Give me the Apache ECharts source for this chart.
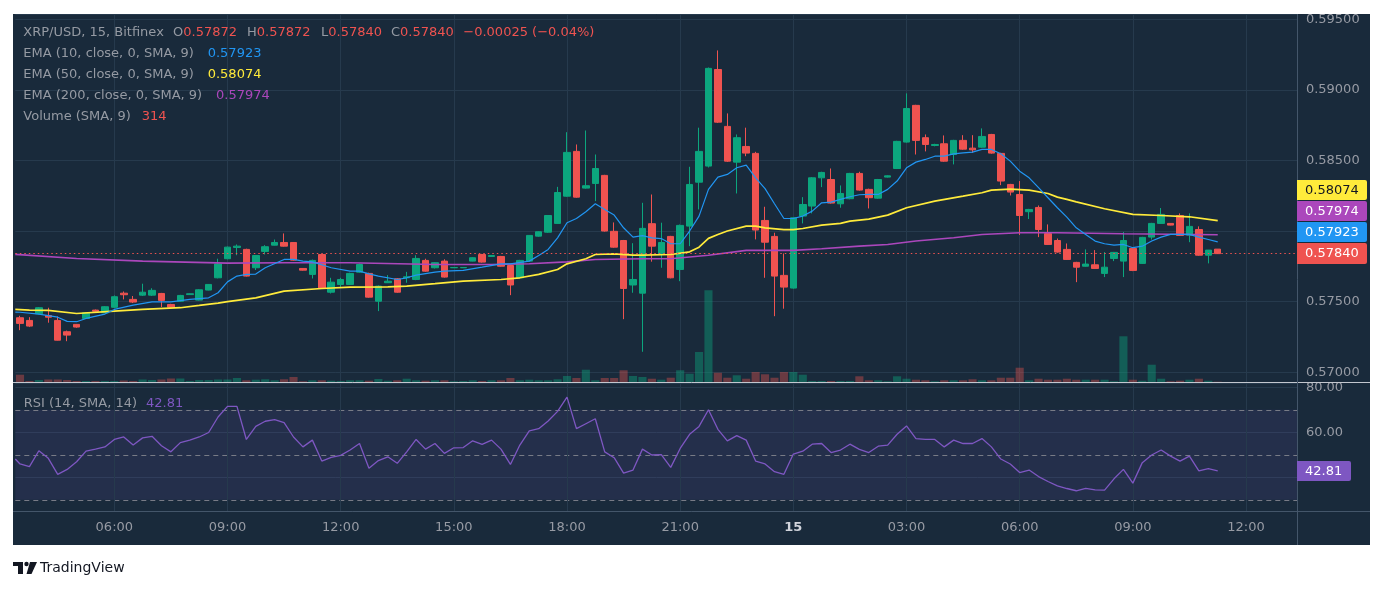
<!DOCTYPE html>
<html><head><meta charset="utf-8">
<script src="https://cdn.jsdelivr.net/npm/echarts@6/dist/echarts.min.js"></script>
<style>html,body{margin:0;padding:0;background:#fff}#c{width:1384px;height:590px}</style>
</head><body><div id="c"></div>
<script>
// ---------------- DATA ----------------
const timeTicks = ['06:00','09:00','12:00','15:00','18:00','21:00','15','03:00'];
const startTime = '03:30';
const open = [
.57386,.57367,.57414,.57402,.57367,.57287,.57339,.57381,.57440,.57421,
.57460,.57560,.57516,.57546,.57546,.57558,.57480,.57503,.57550,.57511,
.57582,.57669,.57804,.57884,.57870,.57740,.57856,.57900,.57919,.57919,
.57735,.57693,.57834,.57567,.57622,.57622,.57709,.57700,.57503,.57634,
.57662,.57669,.57657,.57792,.57740,.57787,.57740,.57740,.57787,.57834,
.57820,.57820,.57756,.57669,.57787,.57964,.57992,.58054,.58247,.58564,
.58304,.58337,.58394,.57998,.57933,.57618,.57560,.58052,.57834,.57962,
.57728,.58035,.58346,.58460,.59144,.58741,.58488,.58599,.58550,.58075,
.57962,.57686,.57596,.58106,.58177,.58377,.58365,.58193,.58229,.58408,
.58295,.58233,.58382,.58443,.58630,.58890,.58661,.58606,.58618,.58542,
.58642,.58587,.58594,.58684,.58550,.58330,.58259,.58137,.58167,.57982,
.57933,.57870,.57778,.57751,.57761,.57700,.57806,.57787,.57877,.57771,
.57957,.58054,.58054,.58110,.57971,.58011,.57829,.57872];
const close = [
.57346,.57327,.57457,.57390,.57227,.57263,.57320,.57421,.57432,.57464,
.57535,.57549,.57497,.57567,.57580,.57509,.57461,.57544,.57556,.57584,
.57622,.57767,.57886,.57893,.57681,.57827,.57889,.57919,.57893,.57794,
.57723,.57792,.57593,.57638,.57657,.57700,.57763,.57532,.57610,.57645,
.57567,.57676,.57806,.57716,.57776,.57674,.57742,.57742,.57811,.57780,
.57827,.57751,.57618,.57792,.57969,.57995,.58110,.58273,.58557,.58240,
.58321,.58443,.58000,.57886,.57593,.57657,.58019,.57893,.57919,.57669,
.58040,.58330,.58564,.59152,.58771,.58495,.58661,.58552,.58007,.57921,
.57681,.57603,.58094,.58188,.58377,.58415,.58198,.58266,.58408,.58290,
.58236,.58365,.58391,.58635,.58868,.58642,.58613,.58613,.58495,.58642,
.58580,.58575,.58670,.58552,.58354,.58276,.58110,.58153,.58011,.57905,
.57851,.57799,.57744,.57766,.57735,.57744,.57849,.57933,.57721,.57955,
.58054,.58118,.58042,.57969,.58033,.57829,.57865,.57840];
const low = [
.57298,.57320,.57410,.57351,.57225,.57220,.57315,.57378,.57428,.57418,
.57455,.57516,.57490,.57540,.57540,.57462,.57455,.57500,.57548,.57508,
.57580,.57665,.57800,.57829,.57678,.57724,.57834,.57898,.57890,.57790,
.57720,.57664,.57590,.57558,.57603,.57618,.57705,.57528,.57433,.57632,
.57563,.57634,.57652,.57712,.57735,.57670,.57738,.57738,.57785,.57776,
.57818,.57748,.57546,.57665,.57783,.57960,.57988,.58050,.58243,.58236,
.58300,.58212,.57996,.57882,.57376,.57563,.57145,.57783,.57740,.57665,
.57645,.57893,.58153,.58450,.58765,.58490,.58266,.58530,.57941,.57669,
.57397,.57450,.57592,.58054,.58125,.58311,.58194,.58165,.58225,.58286,
.58160,.58229,.58379,.58439,.58626,.58542,.58564,.58600,.58491,.58472,
.58576,.58554,.58590,.58548,.58325,.58252,.57972,.58085,.57957,.57901,
.57847,.57795,.57638,.57748,.57732,.57674,.57787,.57674,.57716,.57767,
.57940,.58050,.58040,.57965,.57921,.57825,.57771,.57840];
const high = [
.57400,.57390,.57462,.57457,.57395,.57295,.57342,.57425,.57444,.57468,
.57544,.57572,.57540,.57627,.57595,.57562,.57485,.57548,.57558,.57588,
.57625,.57804,.57890,.57905,.57875,.57830,.57900,.57940,.57983,.57922,
.57738,.57798,.57838,.57669,.57669,.57705,.57770,.57705,.57615,.57688,
.57667,.57711,.57829,.57804,.57780,.57800,.57744,.57744,.57815,.57838,
.57829,.57824,.57760,.57796,.57972,.57998,.58113,.58313,.58700,.58613,
.58712,.58542,.58398,.58061,.57937,.57914,.58200,.58259,.58059,.57966,
.58046,.58455,.58732,.59158,.59279,.58833,.58684,.58732,.58561,.58172,
.57988,.57841,.58098,.58240,.58382,.58420,.58443,.58323,.58412,.58420,
.58300,.58369,.58394,.58639,.58975,.58894,.58684,.58618,.58677,.58646,
.58679,.58679,.58727,.58688,.58554,.58334,.58354,.58157,.58181,.58047,
.57947,.57912,.57782,.57870,.57865,.57851,.57852,.57993,.57881,.57959,
.58058,.58163,.58056,.58125,.58125,.58033,.57866,.57872];
const volume = [
510,70,140,175,175,140,70,70,70,70,
70,105,70,175,140,175,245,245,70,140,
140,175,175,280,120,160,190,120,190,350,
50,120,120,90,70,120,120,90,210,90,
120,230,120,90,120,120,50,70,120,70,
120,120,280,120,160,120,120,190,420,280,
860,120,280,280,820,420,350,230,160,300,
820,580,2100,6420,650,300,470,230,700,540,
300,700,700,510,70,70,70,70,70,400,
120,120,50,400,230,160,120,50,120,120,
120,190,120,120,300,300,1000,120,230,160,
160,230,160,160,160,160,50,3200,160,90,
1210,230,50,90,160,230,90,20];
// [candle position, value]; -0.5 is the left edge of the plot
const ema10 = [[-0.5,.57426],[0,.57425],[2,.57412],[4,.57390],[5,.57360],[6,.57358],[7,.57381],[9,.57412],[10,.57445],[12,.57475],[14,.57499],[16,.57499],[18,.57516],[20,.57527],[21,.57563],[22,.57640],[23,.57681],[24,.57693],[25,.57695],[26,.57740],[28,.57799],[29,.57799],[30,.57787],[31,.57782],[33,.57740],[35,.57716],[36,.57716],[37,.57697],[38,.57681],[40,.57657],[41,.57669],[42,.57688],[44,.57709],[45,.57716],[47,.57721],[49,.57744],[51,.57768],[52,.57768],[54,.57787],[55,.57827],[56,.57870],[57,.57952],[58,.58059],[59,.58089],[60,.58137],[61,.58193],[62,.58153],[63,.58113],[64,.58023],[65,.57957],[66,.57967],[67,.57952],[68,.57947],[69,.57910],[70,.57910],[71,.58000],[72,.58106],[73,.58295],[74,.58382],[75,.58401],[76,.58448],[77,.58467],[78,.58377],[79,.58300],[80,.58193],[81,.58089],[82,.58089],[83,.58106],[84,.58141],[85,.58200],[86,.58205],[87,.58224],[88,.58243],[89,.58257],[90,.58259],[91,.58259],[92,.58295],[93,.58354],[94,.58448],[95,.58488],[96,.58507],[97,.58530],[98,.58530],[99,.58547],[100,.58554],[101,.58559],[102,.58578],[103,.58578],[104,.58547],[105,.58495],[106,.58424],[107,.58377],[108,.58307],[109,.58236],[110,.58165],[111,.58099],[112,.58023],[113,.57976],[114,.57929],[115,.57910],[116,.57900],[117,.57905],[118,.57882],[119,.57893],[120,.57929],[121,.57957],[122,.57976],[123,.57976],[124,.57976],[125,.57957],[126,.57940],[127,.57923]];
const ema50 = [[-0.5,.57445],[1,.57440],[3,.57438],[6,.57416],[10,.57433],[13,.57445],[17,.57457],[19,.57473],[21,.57490],[22,.57500],[25,.57527],[28,.57575],[32,.57593],[35,.57603],[39,.57605],[41,.57610],[44,.57627],[47,.57645],[51,.57657],[53,.57669],[55,.57693],[57,.57728],[58,.57768],[60,.57804],[61,.57834],[63,.57839],[65,.57829],[66,.57829],[69,.57834],[71,.57853],[72,.57886],[73,.57948],[74,.57976],[75,.58000],[77,.58035],[78,.58035],[79,.58023],[81,.58010],[82,.58010],[83,.58018],[85,.58042],[87,.58054],[88,.58070],[89,.58077],[90,.58084],[92,.58113],[94,.58165],[97,.58212],[100,.58247],[102,.58271],[103,.58290],[105,.58297],[107,.58290],[109,.58266],[110,.58240],[111,.58224],[112,.58207],[115,.58158],[118,.58118],[121,.58110],[124,.58101],[127,.58074]];
const ema200 = [[-0.5,.57835],[6,.57806],[13,.57787],[22,.57773],[28,.57775],[35,.57775],[44,.57763],[50,.57763],[54,.57768],[58,.57782],[61,.57799],[66,.57804],[69,.57804],[73,.57829],[77,.57863],[82,.57863],[85,.57875],[89,.57893],[92,.57905],[95,.57929],[99,.57952],[102,.57976],[106,.57988],[110,.57988],[117,.57981],[127,.57974]];
const rsiEdge = 48.1; // RSI value where the line enters at the left edge
const rsi = [
45.9,44.7,51.8,48.4,41.3,43.5,46.9,51.6,52.5,53.5,
56.8,57.9,54.3,57.5,58.2,54.0,51.3,55.4,56.5,57.9,
59.9,66.8,71.5,71.5,56.8,62.6,64.9,65.6,64.3,57.9,
53.5,56.5,47.2,48.8,49.7,52.1,55.0,44.0,47.4,49.1,
46.2,51.3,56.8,52.5,55.0,50.6,53.1,53.2,56.2,54.6,
56.5,52.5,45.7,54.3,60.6,61.6,65.0,69.3,75.6,61.6,
63.8,66.0,51.3,48.7,41.8,43.2,52.5,49.9,50.1,44.4,
52.8,59.1,62.6,70.0,61.3,56.2,58.5,56.5,47.2,45.9,
42.5,41.3,50.3,51.6,54.7,55.0,51.0,52.1,54.7,52.4,
51.0,53.8,54.3,59.1,62.8,57.2,56.8,56.8,53.5,56.5,
55.0,55.0,57.2,53.5,48.1,45.9,42.1,43.2,40.3,38.1,
36.2,35.0,34.0,35.1,34.4,34.3,39.3,43.5,37.4,46.5,
49.9,52.1,49.4,47.2,49.4,42.8,43.8,42.81];
const rsiLevels = [70, 50, 30];
const volumeSma = 314;
const changeText = '\u22120.00025 (\u22120.04%)';

// ---------------- BUILD ----------------
const UP = '#0ca67e', DOWN = '#ef5350';
const BG = '#192a3b', GRID = '#263a4d', AXT = '#979ba4', LEG = '#959aa3';
const FONT = '"DejaVu Sans", "Open Sans", sans-serif';
const FSZ = 13;
const FS = FSZ + 'px ';
const nCats = 136;
const [sh, sm] = startTime.split(':').map(Number);
const categories = [];
for (let i = 0; i < nCats; i++) {
  const m = (sh * 60 + sm + 15 * i) % 1440;
  categories.push(m === 0 ? '15' : String(Math.floor(m / 60)).padStart(2, '0') + ':' + String(m % 60).padStart(2, '0'));
}
const tickIdx = categories.map((c, i) => timeTicks.includes(c) ? i : -1).filter(i => i >= 0);
const candles = open.map((o, i) => [o, close[i], low[i], high[i]]);
const volData = volume.map((v, i) => ({value: v, itemStyle: {color: close[i] >= open[i] ? 'rgba(12,166,126,0.42)' : 'rgba(239,83,80,0.38)'}}));
const rsiData = [[-0.5, rsiEdge]].concat(rsi.map((v, i) => [i, v]));
const last = open.length - 1;

const gridL = 15.3, gridR = 86.1;
const xBase = {type: 'category', data: categories, boundaryGap: true, axisLine: {show: false}, axisTick: {show: false}, splitLine: {show: false}, axisLabel: {show: false}};
const xVal = {type: 'value', min: -0.5, max: nCats - 0.5, show: false};
const vLines = tickIdx.map(i => ({xAxis: i}));

function txt(x, y, text, fill) {
  return {type: 'text', z: 200, style: {x, y, text, fill, font: FS + FONT, verticalAlign: 'middle', align: 'left'}};
}
function rich(x, y, a, b, colB) {
  return {type: 'text', z: 200, style: {x, y, text: '{a|' + a + '}{b|' + b + '}', font: FS + FONT, verticalAlign: 'middle',
    rich: {a: {fill: LEG, font: FS + FONT}, b: {fill: colB, font: FS + FONT}}}};
}
function badge(y, h, w, text, bg, fg) {
  return {type: 'group', z: 210, children: [
    {type: 'rect', z: 210, shape: {x: 1297, y, width: w, height: h, r: [0, 2, 2, 0]}, style: {fill: bg}},
    {type: 'text', z: 211, style: {x: 1305, y: y + h / 2 + 0.5, text, fill: fg, font: FS + FONT, verticalAlign: 'middle'}}
  ]};
}

const option = {
  animation: false,
  backgroundColor: BG,
  grid: [
    {left: gridL, right: gridR, top: 14, height: 368},
    {left: gridL, right: gridR, top: 14, height: 368},
    {left: gridL, right: gridR, top: 383, height: 128}
  ],
  xAxis: [
    Object.assign({}, xBase, {gridIndex: 0}),
    Object.assign({}, xBase, {gridIndex: 1}),
    Object.assign({}, xBase, {gridIndex: 2, axisLabel: {show: true, interval: (i, v) => timeTicks.includes(v),
      formatter: v => v === '15' ? '{b|15}' : v, color: AXT, fontSize: FSZ, fontFamily: FONT, margin: 10,
      rich: {b: {fontWeight: 'bold', color: '#d1d4dc', fontSize: FSZ, fontFamily: FONT}}}}),
    Object.assign({}, xVal, {gridIndex: 0}),
    Object.assign({}, xVal, {gridIndex: 2})
  ],
  yAxis: [
    {gridIndex: 0, position: 'right', min: 0.56931, max: 0.59537, splitNumber: 5,
      axisLine: {show: false}, axisTick: {show: false},
      splitLine: {lineStyle: {color: GRID, width: 1}},
      axisLabel: {formatter: v => v.toFixed(5), color: AXT, fontSize: FSZ, fontFamily: FONT, margin: 8, showMinLabel: false, showMaxLabel: false}},
    {gridIndex: 1, min: 0, max: 25760, show: false},
    {gridIndex: 2, position: 'right', min: 25, max: 81.9, splitNumber: 3,
      axisLine: {show: false}, axisTick: {show: false},
      splitLine: {lineStyle: {color: GRID, width: 1}},
      axisLabel: {formatter: v => v.toFixed(2), color: AXT, fontSize: FSZ, fontFamily: FONT, margin: 8, showMinLabel: false, showMaxLabel: false}}
  ],
  series: [
    {type: 'bar', name: 'Volume', xAxisIndex: 1, yAxisIndex: 1, data: volData, barWidth: '86%', z: 1, silent: true,
      markLine: {silent: true, z: 0, symbol: ['none', 'none'], label: {show: false}, lineStyle: {color: GRID, type: 'solid', width: 1}, data: vLines}},
    {type: 'candlestick', name: 'XRP/USD', xAxisIndex: 0, yAxisIndex: 0, data: candles, barWidth: 7, z: 3,
      itemStyle: {color: UP, color0: DOWN, borderColor: UP, borderColor0: DOWN, borderWidth: 1}},
    {type: 'line', name: 'EMA200', xAxisIndex: 3, yAxisIndex: 0, data: ema200, showSymbol: false, z: 4,
      lineStyle: {color: '#ab47bc', width: 1.6}},
    {type: 'line', name: 'EMA50', xAxisIndex: 3, yAxisIndex: 0, data: ema50, showSymbol: false, z: 4,
      lineStyle: {color: '#ffeb3b', width: 1.7}},
    {type: 'line', name: 'EMA10', xAxisIndex: 3, yAxisIndex: 0, data: ema10, showSymbol: false, z: 4,
      lineStyle: {color: '#2196f3', width: 1.2},
      markLine: {silent: true, z: 6, precision: 6, symbol: ['none', 'none'], label: {show: false},
        lineStyle: {color: DOWN, type: [1.5, 3], width: 1}, data: [{yAxis: close[last]}]}},
    {type: 'line', name: 'RSI', xAxisIndex: 4, yAxisIndex: 2, data: rsiData, showSymbol: false, z: 4,
      lineStyle: {color: '#7e57c2', width: 1.3},
      markArea: {silent: true, itemStyle: {color: 'rgba(126,87,194,0.12)'}, data: [[{yAxis: rsiLevels[0]}, {yAxis: rsiLevels[2]}]]},
      markLine: {silent: true, z: 1, symbol: ['none', 'none'], label: {show: false},
        data: rsiLevels.map(v => ({yAxis: v, lineStyle: {color: '#787b86', type: [5, 4], width: 1}}))
          .concat(vLines.map(d => Object.assign({lineStyle: {color: GRID, type: 'solid', width: 1}}, d)))}}
  ],
  graphic: [
    {type: 'rect', z: 150, shape: {x: 0, y: 0, width: 1384, height: 14}, style: {fill: '#fff'}},
    {type: 'rect', z: 150, shape: {x: 0, y: 0, width: 13, height: 590}, style: {fill: '#fff'}},
    {type: 'rect', z: 150, shape: {x: 1370, y: 0, width: 14, height: 590}, style: {fill: '#fff'}},
    {type: 'rect', z: 150, shape: {x: 0, y: 545, width: 1384, height: 45}, style: {fill: '#fff'}},
    {type: 'line', z: 160, shape: {x1: 13, y1: 382.5, x2: 1370, y2: 382.5}, style: {stroke: '#c3c7cf', lineWidth: 1}},
    {type: 'line', z: 160, shape: {x1: 13, y1: 511.5, x2: 1370, y2: 511.5}, style: {stroke: '#44566a', lineWidth: 1}},
    {type: 'line', z: 160, shape: {x1: 1297.5, y1: 14, x2: 1297.5, y2: 545}, style: {stroke: '#44566a', lineWidth: 1}},
    txt(23.3, 33, 'XRP/USD, 15, Bitfinex', LEG),
    rich(173, 33, 'O', open[last].toFixed(5), DOWN),
    rich(247, 33, 'H', high[last].toFixed(5), DOWN),
    rich(321, 33, 'L', low[last].toFixed(5), DOWN),
    rich(391, 33, 'C', close[last].toFixed(5), DOWN),
    txt(463.3, 33, changeText, DOWN),
    txt(23.3, 54, 'EMA (10, close, 0, SMA, 9)', LEG),
    txt(207.7, 54, ema10[ema10.length - 1][1].toFixed(5), '#2196f3'),
    txt(23.3, 75, 'EMA (50, close, 0, SMA, 9)', LEG),
    txt(207.7, 75, ema50[ema50.length - 1][1].toFixed(5), '#ffeb3b'),
    txt(23.3, 96, 'EMA (200, close, 0, SMA, 9)', LEG),
    txt(216, 96, ema200[ema200.length - 1][1].toFixed(5), '#ab47bc'),
    txt(23.3, 117, 'Volume (SMA, 9)', LEG),
    txt(141.7, 117, String(volumeSma), DOWN),
    txt(23.7, 404, 'RSI (14, SMA, 14)', LEG),
    txt(146, 404, rsi[last].toFixed(2), '#7e57c2'),
    badge(180, 20, 70, ema50[ema50.length - 1][1].toFixed(5), '#ffeb3b', '#131722'),
    badge(201, 20, 70, ema200[ema200.length - 1][1].toFixed(5), '#ab47bc', '#ffffff'),
    badge(222, 20, 70, ema10[ema10.length - 1][1].toFixed(5), '#2196f3', '#ffffff'),
    badge(243, 21, 70, close[last].toFixed(5), DOWN, '#ffffff'),
    badge(461, 20, 54, rsi[last].toFixed(2), '#7e57c2', '#ffffff'),
    {type: 'group', z: 220, children: [
      {type: 'rect', z: 220, shape: {x: 13, y: 562, width: 10, height: 4}, style: {fill: '#131722'}},
      {type: 'rect', z: 220, shape: {x: 18, y: 562, width: 5, height: 12}, style: {fill: '#131722'}},
      {type: 'circle', z: 220, shape: {cx: 26.5, cy: 564, r: 2.2}, style: {fill: '#131722'}},
      {type: 'polygon', z: 220, shape: {points: [[30, 562], [37, 562], [31.5, 574], [26.5, 574]]}, style: {fill: '#131722'}},
      {type: 'text', z: 220, style: {x: 40, y: 568.5, text: 'TradingView', fill: '#131722', font: '14px ' + FONT, verticalAlign: 'middle'}}
    ]}
  ]
};
const chart = echarts.init(document.getElementById('c'));
chart.setOption(option);
</script>
</body></html>
